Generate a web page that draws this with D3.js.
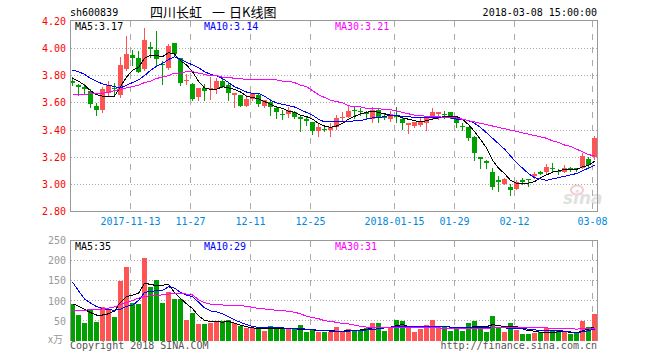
<!DOCTYPE html>
<html>
<head>
<meta charset="utf-8">
<script src="https://cdn.jsdelivr.net/npm/d3@7"></script>
<style>
  body { margin: 0; background: #fff; }
  text { font-family: "DejaVu Sans Mono", monospace; font-size: 10px; }
</style>
</head>
<body>
<div id="chart"></div>
<script>
// 四川长虹 sh600839 日K线, 2017-10-30 .. 2018-03-08

var dates = [
  "2017-10-30","2017-10-31","2017-11-01","2017-11-02","2017-11-03","2017-11-06","2017-11-07","2017-11-08","2017-11-09","2017-11-10",
  "2017-11-13","2017-11-14","2017-11-15","2017-11-16","2017-11-17","2017-11-20","2017-11-21","2017-11-22","2017-11-23","2017-11-24",
  "2017-11-27","2017-11-28","2017-11-29","2017-11-30","2017-12-01","2017-12-04","2017-12-05","2017-12-06","2017-12-07","2017-12-08",
  "2017-12-11","2017-12-12","2017-12-13","2017-12-14","2017-12-15","2017-12-18","2017-12-19","2017-12-20","2017-12-21","2017-12-22",
  "2017-12-25","2017-12-26","2017-12-27","2017-12-28","2017-12-29","2018-01-02","2018-01-03","2018-01-04","2018-01-05","2018-01-08",
  "2018-01-09","2018-01-10","2018-01-11","2018-01-12","2018-01-15","2018-01-16","2018-01-17","2018-01-18","2018-01-19","2018-01-22",
  "2018-01-23","2018-01-24","2018-01-25","2018-01-26","2018-01-29","2018-01-30","2018-01-31","2018-02-01","2018-02-02","2018-02-05",
  "2018-02-06","2018-02-07","2018-02-08","2018-02-09","2018-02-12","2018-02-13","2018-02-14","2018-02-22","2018-02-23","2018-02-26",
  "2018-02-27","2018-02-28","2018-03-01","2018-03-02","2018-03-05","2018-03-06","2018-03-07","2018-03-08"
];

var open = [
  3.76,3.73,3.72,3.69,3.58,3.55,3.67,3.71,3.66,3.85,
  3.95,3.93,3.85,4.01,3.99,3.89,3.86,4.04,3.93,3.76,
  3.74,3.64,3.71,3.70,3.70,3.76,3.73,3.66,3.66,3.58,
  3.63,3.66,3.58,3.61,3.56,3.52,3.52,3.53,3.50,3.48,
  3.46,3.39,3.41,3.40,3.42,3.49,3.50,3.55,3.54,3.53,
  3.48,3.55,3.50,3.48,3.51,3.48,3.44,3.43,3.44,3.45,
  3.50,3.52,3.52,3.53,3.49,3.43,3.42,3.35,3.20,3.17,
  3.09,3.03,3.00,2.98,2.97,3.03,3.04,3.06,3.09,3.09,
  3.12,3.10,3.09,3.12,3.12,3.12,3.19,3.20
];
var high = [
  3.79,3.74,3.74,3.70,3.60,3.72,3.76,3.75,3.94,4.09,
  3.99,3.98,4.15,4.05,4.13,3.91,4.03,4.04,3.93,3.81,
  3.75,3.71,3.74,3.79,3.78,3.79,3.75,3.67,3.66,3.66,
  3.67,3.67,3.62,3.63,3.58,3.55,3.57,3.54,3.51,3.50,
  3.46,3.45,3.43,3.45,3.51,3.53,3.58,3.57,3.56,3.54,
  3.57,3.56,3.52,3.54,3.57,3.49,3.45,3.46,3.49,3.50,
  3.56,3.53,3.54,3.53,3.49,3.45,3.42,3.36,3.20,3.18,
  3.12,3.06,3.05,3.00,3.03,3.05,3.04,3.09,3.10,3.15,
  3.16,3.11,3.14,3.13,3.12,3.23,3.20,3.36
];
var low = [
  3.73,3.66,3.67,3.57,3.51,3.53,3.66,3.66,3.64,3.84,
  3.88,3.83,3.84,3.94,3.88,3.74,3.85,3.95,3.73,3.74,
  3.62,3.62,3.62,3.63,3.67,3.72,3.62,3.57,3.58,3.58,
  3.62,3.58,3.57,3.51,3.49,3.48,3.50,3.49,3.39,3.44,
  3.37,3.36,3.39,3.36,3.41,3.47,3.50,3.49,3.51,3.48,
  3.46,3.46,3.48,3.47,3.46,3.41,3.38,3.42,3.43,3.40,
  3.49,3.48,3.49,3.49,3.42,3.40,3.33,3.18,3.12,3.12,
  2.97,2.95,3.00,2.92,2.97,3.00,2.99,3.05,3.08,3.08,
  3.09,3.08,3.09,3.10,3.10,3.12,3.13,3.19
];
var close = [
  3.75,3.72,3.70,3.59,3.55,3.70,3.73,3.70,3.88,3.96,
  3.93,3.83,4.06,4.00,3.92,3.88,4.02,3.96,3.75,3.77,
  3.63,3.71,3.69,3.71,3.76,3.72,3.67,3.67,3.58,3.63,
  3.67,3.59,3.62,3.57,3.53,3.51,3.55,3.50,3.48,3.47,
  3.39,3.42,3.40,3.42,3.49,3.50,3.54,3.54,3.53,3.52,
  3.55,3.50,3.49,3.52,3.50,3.45,3.45,3.46,3.46,3.49,
  3.53,3.53,3.51,3.50,3.45,3.42,3.34,3.23,3.19,3.16,
  2.98,3.02,3.04,2.96,3.02,3.02,3.03,3.08,3.08,3.13,
  3.11,3.09,3.12,3.11,3.11,3.21,3.14,3.34
];

var ma5 = [
  3.78,3.76,3.73,3.69,3.66,3.65,3.65,3.65,3.72,3.79,
  3.84,3.86,3.93,3.95,3.95,3.94,3.97,3.96,3.91,3.88,
  3.83,3.76,3.71,3.70,3.70,3.72,3.71,3.70,3.68,3.65,
  3.64,3.63,3.61,3.59,3.57,3.56,3.54,3.53,3.51,3.50,
  3.48,3.45,3.43,3.42,3.43,3.45,3.48,3.50,3.52,3.53,
  3.54,3.53,3.52,3.51,3.51,3.49,3.48,3.47,3.46,3.47,
  3.48,3.49,3.50,3.50,3.50,3.48,3.44,3.39,3.33,3.27,
  3.18,3.12,3.08,3.03,3.01,3.01,3.01,3.02,3.05,3.07,
  3.09,3.10,3.11,3.11,3.11,3.13,3.14,3.17
];
var ma10 = [
  3.84,3.83,3.81,3.78,3.76,3.74,3.73,3.72,3.71,3.73,
  3.75,3.77,3.80,3.84,3.87,3.89,3.92,3.94,3.92,3.90,
  3.88,3.86,3.83,3.81,3.80,3.78,3.75,3.72,3.70,3.68,
  3.67,3.67,3.65,3.62,3.60,3.59,3.58,3.57,3.55,3.53,
  3.51,3.48,3.46,3.46,3.46,3.46,3.46,3.47,3.47,3.48,
  3.49,3.49,3.50,3.51,3.51,3.50,3.50,3.49,3.49,3.49,
  3.49,3.49,3.49,3.49,3.48,3.48,3.47,3.45,3.42,3.38,
  3.34,3.30,3.26,3.21,3.16,3.12,3.08,3.05,3.04,3.03,
  3.04,3.05,3.06,3.07,3.08,3.10,3.12,3.14
];
var ma30 = [
  3.66,3.66,3.66,3.67,3.67,3.67,3.68,3.69,3.70,3.71,
  3.72,3.73,3.75,3.76,3.78,3.79,3.80,3.82,3.82,3.83,
  3.83,3.82,3.81,3.80,3.80,3.79,3.79,3.78,3.78,3.77,
  3.77,3.77,3.77,3.77,3.77,3.76,3.76,3.75,3.73,3.72,
  3.69,3.66,3.64,3.62,3.61,3.60,3.58,3.57,3.57,3.56,
  3.56,3.56,3.55,3.55,3.54,3.53,3.52,3.51,3.51,3.50,
  3.50,3.50,3.49,3.49,3.49,3.48,3.47,3.46,3.45,3.44,
  3.43,3.42,3.41,3.40,3.39,3.38,3.37,3.36,3.35,3.34,
  3.32,3.31,3.29,3.28,3.26,3.24,3.22,3.21
];

// 成交量, 万手
var volume = [
  91,65,43,76,46,84,78,58,148,184,
  95,92,205,134,151,95,121,104,104,52,
  68,41,41,43,48,48,52,43,36,31,
  31,32,24,37,34,30,32,30,38,21,
  28,21,21,22,34,22,30,24,27,32,
  45,45,25,32,52,50,32,23,30,40,
  52,35,36,25,34,25,43,50,32,23,
  62,33,23,43,28,18,16,20,22,33,
  25,25,23,16,19,48,34,67
];
var volMa5 = [
  92,86,78,70,64,64,67,74,95,110,
  113,118,143,140,137,138,140,120,105,92,
  80,62,51,48,48,46,48,44,39,35,
  32,31,30,30,30,30,30,30,28,27,
  27,26,25,25,24,24,25,25,27,28,
  32,34,34,34,38,40,36,34,33,35,
  35,35,36,34,34,31,33,35,35,35,
  40,38,35,35,35,30,25,24,21,21,
  21,22,23,21,20,25,29,35
];
var volMa10 = [
  146,124,104,94,85,80,77,76,78,86,
  88,100,120,123,124,125,134,131,120,113,
  110,96,82,74,72,67,60,52,46,40,
  36,33,32,32,32,32,31,31,30,29,
  28,26,25,24,24,24,24,25,25,27,
  28,30,32,34,35,35,35,35,35,35,
  35,35,35,34,34,33,34,34,33,32,
  32,32,32,31,30,30,29,27,26,25,
  25,25,24,22,21,22,25,29
];
var volMa30 = [
  76,76,76,77,78,79,81,84,90,95,
  100,106,110,112,113,114,116,117,117,116,
  114,102,95,91,89,89,88,88,87,86,
  83,80,79,77,76,75,73,71,67,61,
  58,55,50,48,46,43,42,39,36,34,
  33,32,32,32,32,32,32,32,32,32,
  32,32,31,31,31,31,31,31,31,31,
  32,33,34,34,33,32,32,32,32,32,
  31,31,30,30,29,30,31,31
];

var tickDates  = ["2017-11-13","2017-11-27","2017-12-11","2017-12-25","2018-01-15","2018-01-29","2018-02-12","2018-03-08"];
var tickLabels = ["2017-11-13","11-27","12-11","12-25","2018-01-15","01-29","02-12","03-08"];
var priceTicks = [2.8,3.0,3.2,3.4,3.6,3.8,4.0,4.2];
var volTicks = [50,100,150,200,250];

var RED = "#ff5454", GREEN = "#00a000";

var svg = d3.select("#chart").append("svg")
    .attr("width", 660)
    .attr("height", 360)
    .style("display", "block");

var left = 70, right = 597;

var x = d3.scaleBand()
    .domain(dates)
    .range([left, right])
    .paddingInner(1 / 6)
    .paddingOuter(0);

var y = d3.scaleLinear().domain([2.8, 4.2]).range([211.6, 21.4]);
var yv = d3.scaleLinear().domain([0, 250]).range([340.8, 240.1]);

function px(v) { return Math.floor(v) + 0.5; }
function cx(i) { return x(dates[i]) + 2.5; }
function isUp(i) {
  if (close[i] != open[i]) return close[i] > open[i];
  return i > 0 ? close[i] >= close[i - 1] : true;
}

// header
svg.append("text").attr("x", 70).attr("y", 16).text("sh600839");

var title = svg.append("text")
    .attr("y", 17)
    .style("font-family", "'Noto Sans CJK SC', sans-serif")
    .style("font-size", "13px");
title.append("tspan").attr("x", 150).text("四川长虹");
title.append("tspan").attr("x", 212).text("一");
title.append("tspan").attr("x", 229).text("日K线图");

svg.append("text").attr("x", right).attr("y", 16)
    .attr("text-anchor", "end")
    .text("2018-03-08 15:00:00");

// ---- price panel ----
var top1 = 20.5, bot1 = 211.5;
var pg = svg.append("g");

pg.selectAll(".hgrid")
  .data(priceTicks.filter(function(d) { return d > 2.8 && d < 4.2; }))
  .enter().append("line")
    .attr("x1", left + 1).attr("x2", right)
    .attr("y1", function(d) { return px(y(d)); })
    .attr("y2", function(d) { return px(y(d)); })
    .attr("stroke", "#aaa")
    .attr("stroke-dasharray", "1,2")
    .attr("shape-rendering", "crispEdges");

pg.selectAll(".vgrid")
  .data(tickDates)
  .enter().append("line")
    .attr("x1", function(d) { return x(d) + 0.5; })
    .attr("x2", function(d) { return x(d) + 0.5; })
    .attr("y1", top1).attr("y2", bot1)
    .attr("stroke", "#aaa")
    .attr("stroke-dasharray", "6,7")
    .attr("shape-rendering", "crispEdges");

pg.selectAll(".ylab")
  .data(priceTicks)
  .enter().append("text")
    .attr("x", 66)
    .attr("y", function(d) { return y(d) + 3.5; })
    .attr("text-anchor", "end")
    .attr("fill", "#f00")
    .text(function(d) { return d.toFixed(2); });

pg.selectAll(".xlab")
  .data(tickDates)
  .enter().append("text")
    .attr("x", function(d) { return x(d) + 0.5; })
    .attr("y", 225)
    .attr("text-anchor", "middle")
    .attr("fill", "#0088dd")
    .text(function(d, i) { return tickLabels[i]; });

// sina watermark
var wm = pg.append("g").attr("opacity", 0.55);
wm.append("ellipse").attr("cx", 577).attr("cy", 190).attr("rx", 6).attr("ry", 4.5)
    .attr("fill", "none").attr("stroke", "#f4a0a0").attr("stroke-width", 2);
wm.append("text").attr("x", 563).attr("y", 204)
    .style("font-family", "'DejaVu Sans', sans-serif")
    .style("font-size", "17px").style("font-weight", "bold").style("font-style", "italic")
    .attr("fill", "#c8c8c8").text("sina");

var candles = pg.selectAll(".candle")
  .data(d3.range(dates.length))
  .enter().append("g")
    .attr("shape-rendering", "crispEdges");

candles.append("line")
    .attr("x1", function(i) { return cx(i) - 0.5; })
    .attr("x2", function(i) { return cx(i) - 0.5; })
    .attr("y1", function(i) { return Math.round(y(high[i])); })
    .attr("y2", function(i) { return Math.round(y(low[i])) + 1; })
    .attr("stroke", function(i) { return isUp(i) ? RED : GREEN; });

candles.append("rect")
    .attr("x", function(i) { return x(dates[i]); })
    .attr("width", x.bandwidth())
    .attr("y", function(i) { return Math.round(y(Math.max(open[i], close[i]))); })
    .attr("height", function(i) {
      return Math.max(1, Math.round(y(Math.min(open[i], close[i]))) - Math.round(y(Math.max(open[i], close[i]))));
    })
    .attr("fill", function(i) { return isUp(i) ? RED : GREEN; });

function maLine(g, values, scale, color) {
  var line = d3.line()
      .x(function(d, i) { return cx(i); })
      .y(function(d) { return scale(d); });
  g.append("path")
      .datum(values)
      .attr("d", line)
      .attr("fill", "none")
      .attr("stroke", color)
      .attr("stroke-width", 1)
      .attr("shape-rendering", "crispEdges");
}
maLine(pg, ma5, y, "#000");
maLine(pg, ma10, y, "#0000ff");
maLine(pg, ma30, y, "#ff00ff");

pg.append("rect")
    .attr("x", left + 0.5).attr("y", top1)
    .attr("width", right - left).attr("height", bot1 - top1)
    .attr("fill", "none").attr("stroke", "#999")
    .attr("shape-rendering", "crispEdges");

pg.append("text").attr("x", 75).attr("y", 29.5).attr("fill", "#000").text("MA5:" + ma5[ma5.length - 1].toFixed(2));
pg.append("text").attr("x", 204).attr("y", 29.5).attr("fill", "#0000ff").text("MA10:" + ma10[ma10.length - 1].toFixed(2));
pg.append("text").attr("x", 335).attr("y", 29.5).attr("fill", "#ff00ff").text("MA30:" + ma30[ma30.length - 1].toFixed(2));

// ---- volume panel ----
var top2 = 240.5, bot2 = 341;
var vg = svg.append("g");

vg.selectAll(".hgrid")
  .data(volTicks.filter(function(d) { return d < 250; }))
  .enter().append("line")
    .attr("x1", left + 1).attr("x2", right)
    .attr("y1", function(d) { return px(yv(d)); })
    .attr("y2", function(d) { return px(yv(d)); })
    .attr("stroke", "#aaa")
    .attr("stroke-dasharray", "1,2")
    .attr("shape-rendering", "crispEdges");

vg.selectAll(".vgrid")
  .data(tickDates)
  .enter().append("line")
    .attr("x1", function(d) { return x(d) + 0.5; })
    .attr("x2", function(d) { return x(d) + 0.5; })
    .attr("y1", top2).attr("y2", bot2)
    .attr("stroke", "#aaa")
    .attr("stroke-dasharray", "6,7")
    .attr("shape-rendering", "crispEdges");

vg.selectAll(".ylab")
  .data(volTicks)
  .enter().append("text")
    .attr("x", 66)
    .attr("y", function(d) { return yv(d) + 4; })
    .attr("text-anchor", "end")
    .attr("fill", "#999")
    .text(function(d) { return d; });

vg.append("text").attr("x", 63).attr("y", 343).attr("text-anchor", "end")
    .attr("fill", "#999")
    .style("font-family", "'Noto Sans CJK SC', sans-serif")
    .text("x万");

vg.selectAll(".vbar")
  .data(d3.range(dates.length))
  .enter().append("rect")
    .attr("x", function(i) { return x(dates[i]); })
    .attr("width", x.bandwidth())
    .attr("y", function(i) { return Math.round(yv(volume[i])); })
    .attr("height", function(i) { return bot2 - Math.round(yv(volume[i])); })
    .attr("fill", function(i) { return isUp(i) ? RED : GREEN; })
    .attr("shape-rendering", "crispEdges");

maLine(vg, volMa5, yv, "#000");
maLine(vg, volMa10, yv, "#0000ff");
maLine(vg, volMa30, yv, "#ff00ff");

vg.append("path")
    .attr("d", "M" + (left + 0.5) + "," + bot2 + "V" + top2 + "H" + (right + 0.5) + "V" + bot2)
    .attr("fill", "none").attr("stroke", "#999")
    .attr("shape-rendering", "crispEdges");

vg.append("text").attr("x", 75).attr("y", 249.5).attr("fill", "#000").text("MA5:" + volMa5[volMa5.length - 1]);
vg.append("text").attr("x", 204).attr("y", 249.5).attr("fill", "#0000ff").text("MA10:" + volMa10[volMa10.length - 1]);
vg.append("text").attr("x", 335).attr("y", 249.5).attr("fill", "#ff00ff").text("MA30:" + volMa30[volMa30.length - 1]);

// footer
svg.append("text").attr("x", 70).attr("y", 349).attr("fill", "#555").text("Copyright 2018 SINA.COM");
svg.append("text").attr("x", right).attr("y", 349).attr("text-anchor", "end").attr("fill", "#555").text("http://finance.sina.com.cn");
</script>
</body>
</html>
